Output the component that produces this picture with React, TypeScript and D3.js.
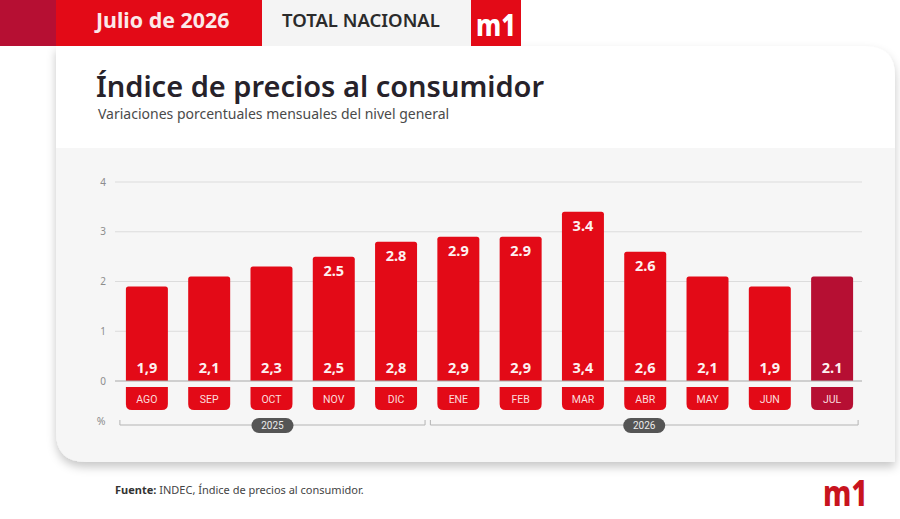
import React, { useRef, useEffect } from "react";
import * as d3 from "d3";

const months = ["AGO", "SEP", "OCT", "NOV", "DIC", "ENE", "FEB", "MAR", "ABR", "MAY", "JUN", "JUL"];
const values = [1.9, 2.1, 2.3, 2.5, 2.8, 2.9, 2.9, 3.4, 2.6, 2.1, 1.9, 2.1];
const baseLabels = ["1,9", "2,1", "2,3", "2,5", "2,8", "2,9", "2,9", "3,4", "2,6", "2,1", "1,9", "2.1"];
const topLabels = ["", "", "", "2.5", "2.8", "2.9", "2.9", "3.4", "2.6", "", "", ""];
const yTicks = [0, 1, 2, 3, 4];
const years = [
  { label: "2025", first: "AGO", last: "DIC" },
  { label: "2026", first: "ENE", last: "JUL" },
];

const RED = "#e30a17";
const DARK_RED = "#b60f33";
const FONT = "'Noto Sans', sans-serif";

export default function App() {
  const svgRef = useRef<SVGSVGElement>(null);

  useEffect(() => {
    const width = 900;
    const height = 519;
    const svg = d3.select(svgRef.current);
    svg.selectAll("*").remove();
    svg.attr("width", width).attr("height", height);

    svg.append("rect").attr("width", width).attr("height", height).attr("fill", "#ffffff");

    const defs = svg.append("defs");
    const shadow = defs
      .append("filter")
      .attr("id", "cardShadow")
      .attr("x", "-5%")
      .attr("y", "-5%")
      .attr("width", "110%")
      .attr("height", "112%");
    shadow
      .append("feDropShadow")
      .attr("dx", 0)
      .attr("dy", 5)
      .attr("stdDeviation", 5)
      .attr("flood-color", "#000")
      .attr("flood-opacity", 0.22);

    // card: square top-left and bottom-right, rounded on the other two
    const cardPath = (x0: number, y0: number, x1: number, y1: number, r: number) =>
      `M${x0},${y0}H${x1 - r}Q${x1},${y0} ${x1},${y0 + r}V${y1}H${x0 + r}Q${x0},${y1} ${x0},${y1 - r}Z`;

    svg.append("path").attr("d", cardPath(56, 46, 895, 462, 30)).attr("fill", "#f6f6f6").attr("filter", "url(#cardShadow)");
    svg.append("path").attr("d", `M56,46H865Q895,46 895,76V148H56Z`).attr("fill", "#ffffff");

    // top band
    svg.append("rect").attr("x", 0).attr("y", 0).attr("width", 56).attr("height", 46).attr("fill", DARK_RED);
    svg.append("rect").attr("x", 56).attr("y", 0).attr("width", 206).attr("height", 46).attr("fill", RED);
    svg.append("rect").attr("x", 262).attr("y", 0).attr("width", 209).attr("height", 46).attr("fill", "#f4f4f4");
    svg.append("rect").attr("x", 471).attr("y", 0).attr("width", 50).attr("height", 46).attr("fill", RED);

    const label = (x: number, y: number, text: string, size: number, fill: string, weight: number | string = 400, anchor = "start") =>
      svg
        .append("text")
        .attr("x", x)
        .attr("y", y)
        .attr("font-family", FONT)
        .attr("font-size", size)
        .attr("font-weight", weight)
        .attr("fill", fill)
        .attr("text-anchor", anchor)
        .text(text);

    label(96, 28, "Julio de 2026", 21.4, "#fbe9e9", 700);
    label(282, 27, "TOTAL NACIONAL", 18.5, "#2b2b2b", 600);
    label(476, 36, "m1", 31, "#ffffff", 800).attr("textLength", 40).attr("lengthAdjust", "spacingAndGlyphs");

    label(96, 97, "Índice de precios al consumidor", 29, "#27222a", 600);
    label(98, 119, "Variaciones porcentuales mensuales del nivel general", 14, "#4a4a4a");

    const x = d3.scaleBand<string>().domain(months).range([115, 864]).paddingInner(0.326).paddingOuter(0.175);
    const y = d3.scaleLinear().domain([0, 4]).range([381, 182]);

    const chart = svg.append("g").attr("font-family", FONT);

    chart
      .selectAll(".grid")
      .data(yTicks.filter((d) => d > 0))
      .join("line")
      .attr("x1", 115)
      .attr("x2", 862)
      .attr("y1", (d) => y(d))
      .attr("y2", (d) => y(d))
      .attr("stroke", "#dcdcdc");

    const yAxis = chart
      .append("g")
      .attr("transform", "translate(115,0)")
      .call(d3.axisLeft(y).tickValues(yTicks).tickFormat(d3.format("d")).tickSize(0).tickPadding(9));
    yAxis.select(".domain").remove();
    yAxis.selectAll("text").attr("font-family", FONT).attr("font-size", 10).attr("fill", "#8d8d8d");

    const barColor = (m: string) => (m === "JUL" ? DARK_RED : RED);

    const bars = months.map((m, i) => ({ month: m, value: values[i], base: baseLabels[i], top: topLabels[i] }));

    chart
      .selectAll(".bar")
      .data(bars)
      .join("path")
      .attr("class", "bar")
      .attr("fill", (d) => barColor(d.month))
      .attr("d", (d) => {
        const x0 = x(d.month)!;
        const x1 = x0 + x.bandwidth();
        const top = y(d.value);
        const r = 2.5;
        return `M${x0},${y(0)}V${top + r}Q${x0},${top} ${x0 + r},${top}H${x1 - r}Q${x1},${top} ${x1},${top + r}V${y(0)}Z`;
      });

    chart
      .append("line")
      .attr("x1", 115)
      .attr("x2", 862)
      .attr("y1", y(0))
      .attr("y2", y(0))
      .attr("stroke", "#a8a8a8")
      .attr("stroke-width", 1.2);

    chart
      .selectAll(".base-label")
      .data(bars)
      .join("text")
      .attr("x", (d) => x(d.month)! + x.bandwidth() / 2)
      .attr("y", 373)
      .attr("text-anchor", "middle")
      .attr("font-size", 14.5)
      .attr("font-weight", 700)
      .attr("fill", "#fdf0f0")
      .text((d) => d.base);

    chart
      .selectAll(".top-label")
      .data(bars.filter((d) => d.top))
      .join("text")
      .attr("x", (d) => x(d.month)! + x.bandwidth() / 2)
      .attr("y", (d) => y(d.value) + 19)
      .attr("text-anchor", "middle")
      .attr("font-size", 14.5)
      .attr("font-weight", 700)
      .attr("fill", "#fdf0f0")
      .text((d) => d.top);

    // month tabs under the axis
    chart
      .selectAll(".tab")
      .data(bars)
      .join("path")
      .attr("fill", (d) => barColor(d.month))
      .attr("d", (d) => {
        const x0 = x(d.month)!;
        const x1 = x0 + x.bandwidth();
        const r = 6;
        return `M${x0},387H${x1}V${410 - r}Q${x1},410 ${x1 - r},410H${x0 + r}Q${x0},410 ${x0},${410 - r}Z`;
      });

    chart
      .selectAll(".tab-label")
      .data(bars)
      .join("text")
      .attr("x", (d) => x(d.month)! + x.bandwidth() / 2)
      .attr("y", 403)
      .attr("text-anchor", "middle")
      .attr("font-family", "Roboto, sans-serif")
      .attr("font-size", 10.5)
      .attr("fill", "#fbdcdc")
      .text((d) => d.month);

    chart
      .append("text")
      .attr("x", 101)
      .attr("y", 425)
      .attr("text-anchor", "middle")
      .attr("font-size", 10.5)
      .attr("fill", "#8d8d8d")
      .text("%");

    // year brackets
    const yearG = chart
      .selectAll(".year")
      .data(years)
      .join("g");

    const yearStart = (d: (typeof years)[number]) => x(d.first)! - 6 + (d.label === "2026" ? -1 : 0);
    const yearEnd = (d: (typeof years)[number]) => x(d.last)! + x.bandwidth() + (d.label === "2026" ? 5 : 8);

    yearG
      .append("path")
      .attr("fill", "none")
      .attr("stroke", "#b4b4b4")
      .attr("stroke-width", 1)
      .attr("d", (d) => `M${yearStart(d)},420V425H${yearEnd(d)}V420`);

    yearG
      .append("rect")
      .attr("x", (d) => (yearStart(d) + yearEnd(d)) / 2 - 21)
      .attr("y", 418)
      .attr("width", 42)
      .attr("height", 15)
      .attr("rx", 7.5)
      .attr("fill", "#555555");

    yearG
      .append("text")
      .attr("x", (d) => (yearStart(d) + yearEnd(d)) / 2)
      .attr("y", 429)
      .attr("text-anchor", "middle")
      .attr("font-family", "Roboto, sans-serif")
      .attr("font-size", 10)
      .attr("fill", "#ececec")
      .text((d) => d.label);

    // footer
    const source = label(115, 494, "", 11, "#444444");
    source.append("tspan").attr("font-weight", 700).attr("fill", "#333333").text("Fuente: ");
    source.append("tspan").text("INDEC, Índice de precios al consumidor.");

    label(823, 506, "m1", 36, "#c8141e", 800).attr("textLength", 45).attr("lengthAdjust", "spacingAndGlyphs");
  }, []);

  return <svg ref={svgRef} style={{ position: "absolute", left: 0, top: 0, display: "block" }}></svg>;
}
